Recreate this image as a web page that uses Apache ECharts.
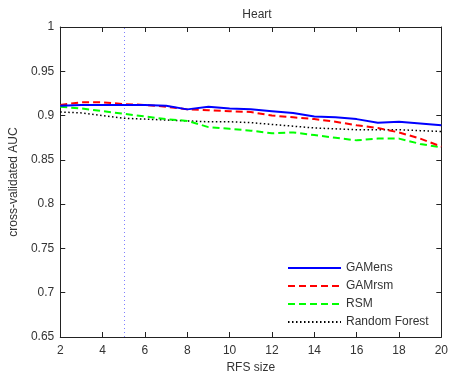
<!DOCTYPE html>
<html><head><meta charset="utf-8">
<script src="https://cdn.jsdelivr.net/npm/echarts@6/dist/echarts.min.js"></script>
<style>html,body{margin:0;padding:0;background:#fff}#c{width:451px;height:381px}</style>
</head><body><div id="c"></div>
<script>
const rfsSize = [2,3,4,5,6,7,8,9,10,11,12,13,14,15,16,17,18,19,20];
const gamens = [0.911,0.912,0.912,0.912,0.912,0.911,0.907,0.910,0.908,0.907,0.905,0.903,0.899,0.898,0.896,0.892,0.893,0.891,0.889];
const gamrsm = [0.912,0.915,0.915,0.913,0.912,0.910,0.907,0.906,0.905,0.904,0.900,0.898,0.896,0.893,0.889,0.886,0.881,0.874,0.865];
const rsm = [0.910,0.908,0.905,0.902,0.899,0.896,0.894,0.887,0.885,0.883,0.880,0.881,0.878,0.875,0.872,0.874,0.874,0.868,0.864];
const randomForest = [0.904,0.903,0.900,0.897,0.896,0.895,0.894,0.893,0.893,0.892,0.890,0.888,0.886,0.885,0.884,0.884,0.884,0.883,0.882];
const cutoff = 5;
const seriesNames = ['GAMens','GAMrsm','RSM','Random Forest'];

const font = 'Liberation Sans, Arial, sans-serif';
const txt = '#333';
const pair = arr => rfsSize.map((x,i)=>[x,arr[i]]);
const chart = echarts.init(document.getElementById('c'));
const axLine = {show:true,lineStyle:{color:'#222',width:1}};
chart.setOption({
  animation:false,
  title:{text:'Heart',left:252,top:4,textAlign:'center',textStyle:{fontFamily:font,fontSize:12,fontWeight:'normal',color:txt}},
  grid:{left:60,right:6,top:27,bottom:44},
  legend:{
    orient:'vertical',left:282,top:257,itemWidth:53,itemHeight:12,itemGap:6,
    textStyle:{fontFamily:font,fontSize:12,color:txt},
    itemStyle:{opacity:0},
    data:seriesNames
  },
  xAxis:[{
    type:'value',min:2,max:20,interval:2,
    name:'RFS size',nameLocation:'middle',nameGap:24,
    nameTextStyle:{fontFamily:font,fontSize:12,color:txt},
    axisLine:axLine,axisTick:{inside:true,length:5,lineStyle:{color:'#222'}},
    axisLabel:{fontFamily:font,fontSize:12,color:txt,margin:8},
    splitLine:{show:false}
  },{
    type:'value',min:2,max:20,interval:2,position:'top',
    axisLine:axLine,axisTick:{inside:true,length:5,lineStyle:{color:'#222'}},
    axisLabel:{show:false},splitLine:{show:false}
  }],
  yAxis:[{
    type:'value',min:0.65,max:1,interval:0.05,
    name:'cross-validated AUC',nameLocation:'middle',nameGap:40,
    nameTextStyle:{fontFamily:font,fontSize:12,color:txt},
    axisLine:axLine,axisTick:{inside:true,length:5,lineStyle:{color:'#222'}},
    axisLabel:{fontFamily:font,fontSize:12,color:txt,margin:6,formatter:v=>String(+v.toFixed(2))},
    splitLine:{show:false}
  },{
    type:'value',min:0.65,max:1,interval:0.05,position:'right',
    axisLine:axLine,axisTick:{inside:true,length:5,lineStyle:{color:'#222'}},
    axisLabel:{show:false},splitLine:{show:false}
  }],
  series:[
    {name:'GAMens',type:'line',data:pair(gamens),symbol:'none',z:5,
     lineStyle:{color:'#0000ff',width:2,type:'solid'},itemStyle:{color:'#0000ff'},
     markLine:{silent:true,symbol:'none',label:{show:false},
       lineStyle:{color:'#7f7fff',width:1,type:[1,3]},data:[{xAxis:cutoff}]}},
    {name:'GAMrsm',type:'line',data:pair(gamrsm),symbol:'none',z:4,
     lineStyle:{color:'#ff0000',width:2,type:[7,4]},itemStyle:{color:'#ff0000'}},
    {name:'RSM',type:'line',data:pair(rsm),symbol:'none',z:3,
     lineStyle:{color:'#00ff00',width:2,type:[7,4]},itemStyle:{color:'#00ff00'}},
    {name:'Random Forest',type:'line',data:pair(randomForest),symbol:'none',z:2,
     lineStyle:{color:'#000000',width:1.5,type:[1.5,2.5]},itemStyle:{color:'#000'}}
  ]
});
</script>
</body></html>
